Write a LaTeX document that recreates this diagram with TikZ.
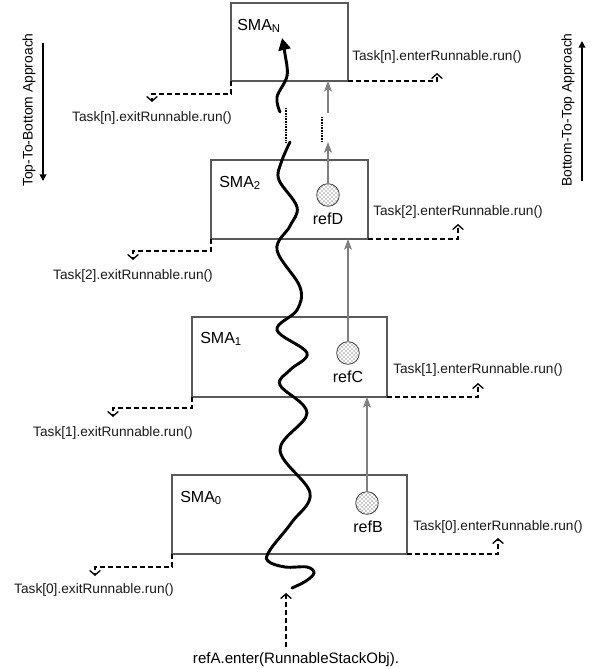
\documentclass[tikz,border=0pt]{standalone}
\usepackage{fontspec}
\setmainfont{Liberation Sans}
\usetikzlibrary{arrows.meta,patterns}
\newcommand\smasub[1]{\raisebox{-0.35ex}{\fontsize{8.5}{9}\selectfont #1}}
\begin{document}
\begin{tikzpicture}[x=0.75pt,y=-0.75pt,
  smabox/.style={draw=black!65,line width=0.8pt,inner sep=0pt,outer sep=0pt,anchor=north west},
  smalabel/.style={font=\fontsize{12}{14}\selectfont,anchor=base west,inner sep=0pt},
  tasklabel/.style={font=\fontsize{10.25}{12}\selectfont,anchor=base,inner sep=0pt,text=black!90},
  reflabel/.style={font=\fontsize{12}{14}\selectfont,anchor=base,inner sep=0pt},
  refdot/.style={circle,draw=black!75,line width=0.6pt,minimum size=17pt,inner sep=0pt,outer sep=0pt,preaction={fill=white},pattern=crosshatch dots,pattern color=black!85},
  callconn/.style={draw=black,line width=1pt,dash pattern=on 4pt off 2pt,-{Straight Barb[length=3.5pt,width=8pt]}},
  grayconn/.style={draw=black!50,line width=0.8pt,-{Stealth[length=8pt,width=6pt,inset=2pt]}},
  gapdots/.style={draw=black,line width=1.3pt,dash pattern=on 0.6pt off 0.6pt},
  wave/.style={draw=black,line width=2.2pt,line cap=round},
  approach/.style={font=\fontsize{10.4}{12}\selectfont,rotate=90,inner sep=0pt},
  approacharrow/.style={draw=black,line width=1.1pt,-{Triangle[length=5pt,width=5pt]}}
]
\useasboundingbox (0,0) rectangle (595,669);

% boxes
\node[smabox,minimum width=87.75pt,minimum height=58.5pt] (smaN) at (231,3) {};
\node[smabox,minimum width=117.75pt,minimum height=59.25pt] (sma2) at (211,160) {};
\node[smabox,minimum width=146.25pt,minimum height=60pt] (sma1) at (192,317) {};
\node[smabox,minimum width=176.25pt,minimum height=59.25pt] (sma0) at (172,475) {};

\node[smalabel] (lN) at (237,30) {SMA\smasub{N}};
\node[smalabel] (l2) at (219,187) {SMA\smasub{2}};
\node[smalabel] (l1) at (200,343) {SMA\smasub{1}};
\node[smalabel] (l0) at (180,502) {SMA\smasub{0}};

% reference dots
\node[refdot] (refD) at (328,195) {};
\node[refdot] (refC) at (348,353) {};
\node[refdot] (refB) at (367,503) {};
\node[reflabel] (refDl) at (328,224) {refD};
\node[reflabel] (refCl) at (348,382) {refC};
\node[reflabel] (refBl) at (368,532) {refB};

% gray reference arrows
\draw[grayconn] (refB.north) -- (refB.north |- sma1.south);
\draw[grayconn] (refC.north) -- (refC.north |- sma2.south);
\coordinate (refDup) at (328,142);
\coordinate (refDcont) at (328,113);
\coordinate (gapRa) at (322,117);
\coordinate (gapRb) at (322,142);
\draw[grayconn] (refD.north) -- (refDup);
\draw[gapdots] (gapRa) -- (gapRb);
\draw[grayconn] (refDcont) -- (refDcont |- smaN.south);

% exit calls
\coordinate (exN) at (152,102);
\coordinate (ex2) at (133,260);
\coordinate (ex1) at (113,417);
\coordinate (ex0) at (95,576);
\draw[callconn] (smaN.south west) -- ++(0,13) -| (exN);
\draw[callconn] (sma2.south west) -- ++(0,12) -| (ex2);
\draw[callconn] (sma1.south west) -- ++(0,11) -| (ex1);
\draw[callconn] (sma0.south west) -- ++(0,13) -| (ex0);
\node[tasklabel] (exNl) at (152,121) {Task[n].exitRunnable.run()};
\node[tasklabel] (ex2l) at (133,279) {Task[2].exitRunnable.run()};
\node[tasklabel] (ex1l) at (113,436) {Task[1].exitRunnable.run()};
\node[tasklabel] (ex0l) at (94,593) {Task[0].exitRunnable.run()};

% enter calls
\coordinate (enN) at (437,73);
\coordinate (en2) at (458,224);
\coordinate (en1) at (478,383);
\coordinate (en0) at (498,538);
\draw[callconn] (smaN.south east) -| (enN);
\draw[callconn] (sma2.south east) -| (en2);
\draw[callconn] (sma1.south east) -| (en1);
\draw[callconn] (sma0.south east) -| (en0);
\node[tasklabel] (enNl) at (437,60) {Task[n].enterRunnable.run()};
\node[tasklabel] (en2l) at (458,215) {Task[2].enterRunnable.run()};
\node[tasklabel] (en1l) at (478,373) {Task[1].enterRunnable.run()};
\node[tasklabel] (en0l) at (498,530) {Task[0].enterRunnable.run()};

% refA entry
\node[font=\fontsize{11.3}{13}\selectfont,anchor=base,inner sep=0pt] (refAl) at (296,663) {refA.enter(RunnableStackObj).};
\coordinate (refAtip) at (286,593);
\coordinate (refAfoot) at (286,647);
\draw[callconn] (refAfoot) -- (refAtip);

% wavy thread
\draw[wave] plot[smooth,tension=0.6] coordinates {(290,142) (281,163) (279,180) (297,207) (290,226) (277,250) (300,287) (297,310) (277,330) (307,353) (290,370) (280,385) (307,413) (280,450) (310,493) (292,522) (270,550) (268,561) (285,567) (307,567) (314,573) (306,581) (292,588)};
\draw[wave,-{Triangle[length=9pt,width=9pt]}] plot[smooth,tension=0.6] coordinates {(280,112) (277,97) (287,76) (285,54) (282,38)};
\coordinate (gapLa) at (286,108);
\coordinate (gapLb) at (286,142);
\draw[gapdots] (gapLa) -- (gapLb);

% approach indicators
\node[approach] (tbl) at (29,110) {Top-To-Bottom Approach};
\coordinate (tbs) at (43,43);
\coordinate (tbe) at (43,181);
\draw[approacharrow] (tbs) -- (tbe);
\node[approach] (btl) at (568,110) {Bottom-To-Top Approach};
\coordinate (bts) at (582,181);
\coordinate (bte) at (582,41);
\draw[approacharrow] (bts) -- (bte);
\end{tikzpicture}
\end{document}
